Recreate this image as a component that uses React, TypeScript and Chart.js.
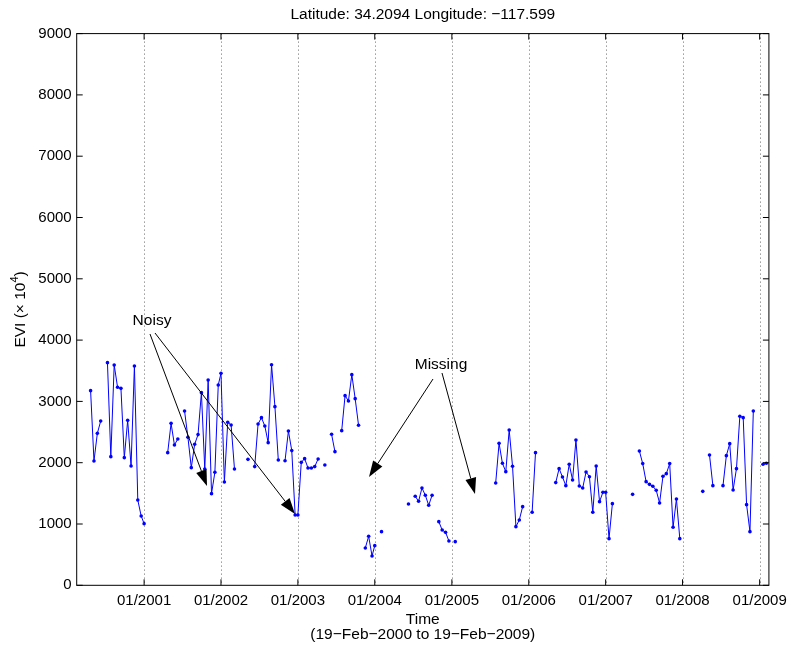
import React, { useEffect, useRef } from "react";
import { Chart, registerables } from "chart.js";

Chart.register(...registerables);

// ---- Data (EVI x 10^4, 16-day composites; null = missing) ----
// 2000: DOY 49 .. 353
const evi2000 = [null, null, null, null, 3175, 2028, 2479, 2680, null, 3632, 2099, 3594, 3230, 3213, 2082, 2691, 1946, 3578, 1392, 1131];
// 2001..2008: DOY 1 .. 353
const evi2001 = [1006, null, null, null, null, null, null, 2164, 2642, 2289, 2387, null, 2844, 2414, 1919, 2300, 2458, 3143, 1898, 3349, 1495, 1843, 3268];
const evi2002 = [3458, 1685, 2659, 2615, 1898, null, null, null, 2055, null, 1936, 2632, 2735, 2599, 2327, 3599, 2914, 2044, null, 2033, 2517, 2197, 1147];
const evi2003 = [1147, 2006, 2066, 1914, 1914, 1936, 2061, null, 1963, null, 2463, 2180, null, 2523, 3094, 3007, 3436, 3045, 2610, null, 609, 799, 478];
const evi2004 = [647, null, 875, null, null, null, null, null, null, null, 1327, null, 1452, 1370, 1588, 1468, 1305, 1468, null, 1038, 902, 864, 723];
const evi2005 = [null, 712, null, null, null, null, null, null, null, null, null, null, null, 1669, 2316, 1990, 1854, 2534, 1941, 957, 1066, 1283, null];
const evi2006 = [null, 1191, 2164, null, null, null, null, null, 1675, 1903, 1767, 1626, 1974, 1718, 2371, 1620, 1588, 1849, 1772, 1191, 1946, 1365, 1517];
const evi2007 = [1517, 761, 1332, null, null, null, null, null, 1484, null, 2191, 1985, 1691, 1647, 1615, 1550, 1343, 1778, 1821, 1985, 946, 1408, 761];
const evi2008 = [null, null, null, null, null, null, 1533, null, 2126, 1626, null, null, 1626, 2115, 2311, 1555, 1903, 2757, 2735, 1316, 875, 2844, null];
// 2009: DOY 1 .. 49
const evi2009 = [null, 1974, 1990, null];

const seriesYears = [2000, 2001, 2002, 2003, 2004, 2005, 2006, 2007, 2008, 2009];
const seriesFirstDoy = [49, 1, 1, 1, 1, 1, 1, 1, 1, 1];
const seriesValues = [evi2000, evi2001, evi2002, evi2003, evi2004, evi2005, evi2006, evi2007, evi2008, evi2009];

const tickYears = [2001, 2002, 2003, 2004, 2005, 2006, 2007, 2008, 2009];
const yTicks = [0, 1000, 2000, 3000, 4000, 5000, 6000, 7000, 8000, 9000];

const titleText = "Latitude: 34.2094 Longitude: \u2212117.599";
const xTitle = "Time";
const xSubtitle = "(19\u2212Feb\u22122000 to 19\u2212Feb\u22122009)";

// ---- helpers ----
const dayOf = (year: number, doy: number) =>
  (Date.UTC(year, 0, 1) - Date.UTC(2000, 0, 1)) / 86400000 + doy - 1;

const X_MIN = dayOf(2000, 47);
const X_MAX = dayOf(2009, 45);

const FONT = '"Liberation Sans", Arial, Helvetica, sans-serif';

function buildPoints() {
  const pts: { x: number; y: number | null }[] = [];
  seriesValues.forEach((vals, k) => {
    vals.forEach((v, i) => {
      pts.push({ x: dayOf(seriesYears[k], seriesFirstDoy[k] + 16 * i), y: v });
    });
  });
  return pts;
}

function drawArrow(ctx: CanvasRenderingContext2D, x1: number, y1: number, x2: number, y2: number) {
  const ang = Math.atan2(y2 - y1, x2 - x1);
  const L = 16;
  const W = 5.5;
  const bx = x2 - L * Math.cos(ang);
  const by = y2 - L * Math.sin(ang);
  ctx.beginPath();
  ctx.moveTo(x1, y1);
  ctx.lineTo(bx, by);
  ctx.stroke();
  ctx.beginPath();
  ctx.moveTo(x2, y2);
  ctx.lineTo(bx + W * Math.sin(ang), by - W * Math.cos(ang));
  ctx.lineTo(bx - W * Math.sin(ang), by + W * Math.cos(ang));
  ctx.closePath();
  ctx.fill();
}

const decorPlugin = {
  id: "matlabDecor",
  beforeDatasetsDraw(chart: any) {
    const { ctx, chartArea } = chart;
    const xs = chart.scales.x;
    ctx.save();
    ctx.strokeStyle = "rgba(0,0,0,0.6)";
    ctx.lineWidth = 1;
    ctx.setLineDash([1, 3]);
    tickYears.forEach((yr) => {
      const px = Math.round(xs.getPixelForValue(dayOf(yr, 1))) + 0.5;
      ctx.beginPath();
      ctx.moveTo(px, chartArea.top);
      ctx.lineTo(px, chartArea.bottom);
      ctx.stroke();
    });
    ctx.restore();
  },
  afterDatasetsDraw(chart: any) {
    const { ctx, chartArea } = chart;
    const xs = chart.scales.x;
    const ys = chart.scales.y;
    const { left, right, top, bottom } = chartArea;
    ctx.save();
    ctx.strokeStyle = "#000";
    ctx.lineWidth = 1;
    ctx.setLineDash([]);
    ctx.strokeRect(left, top, right - left, bottom - top);
    const T = 6;
    ctx.beginPath();
    yTicks.forEach((v) => {
      const py = ys.getPixelForValue(v);
      ctx.moveTo(left, py);
      ctx.lineTo(left + T, py);
      ctx.moveTo(right, py);
      ctx.lineTo(right - T, py);
    });
    tickYears.forEach((yr) => {
      const px = xs.getPixelForValue(dayOf(yr, 1));
      ctx.moveTo(px, bottom);
      ctx.lineTo(px, bottom - T);
      ctx.moveTo(px, top);
      ctx.lineTo(px, top + T);
    });
    ctx.stroke();

    // texts
    const cx = (left + right) / 2;
    ctx.fillStyle = "#000";
    ctx.textAlign = "center";
    ctx.textBaseline = "middle";
    ctx.font = `15.5px ${FONT}`;
    ctx.fillText(titleText, cx, 15);
    ctx.fillText(xTitle, cx, 620);
    ctx.fillText(xSubtitle, cx, 635);

    // y label with superscript
    ctx.save();
    ctx.translate(21, (top + bottom) / 2);
    ctx.rotate(-Math.PI / 2);
    const a = "EVI (\u00d7 10";
    const sup = "4";
    const c = ")";
    ctx.font = `15.5px ${FONT}`;
    const wa = ctx.measureText(a).width;
    const wc = ctx.measureText(c).width;
    ctx.font = `11px ${FONT}`;
    const ws = ctx.measureText(sup).width;
    const total = wa + ws + wc;
    const x0 = -total / 2;
    ctx.textAlign = "left";
    ctx.font = `15.5px ${FONT}`;
    ctx.fillText(a, x0, 0);
    ctx.font = `11px ${FONT}`;
    ctx.fillText(sup, x0 + wa, -6);
    ctx.font = `15.5px ${FONT}`;
    ctx.fillText(c, x0 + wa + ws, 0);
    ctx.restore();

    // annotations
    ctx.font = `15.5px ${FONT}`;
    ctx.textAlign = "center";
    ctx.fillText("Noisy", 152, 321);
    ctx.fillText("Missing", 441, 365);
    ctx.fillStyle = "#000";
    ctx.lineWidth = 1;
    drawArrow(ctx, 150, 334, 207, 486);
    drawArrow(ctx, 155, 333, 295, 514);
    drawArrow(ctx, 433, 379, 369, 477);
    drawArrow(ctx, 442, 373, 475, 494);
    ctx.restore();
  },
};

export default function App() {
  const ref = useRef<HTMLCanvasElement | null>(null);
  useEffect(() => {
    if (!ref.current) return;
    const chart = new Chart(ref.current, {
      type: "line",
      data: {
        datasets: [
          {
            data: buildPoints() as any,
            borderColor: "#0000ff",
            backgroundColor: "#0000ff",
            borderWidth: 1,
            pointRadius: 1.8,
            pointBorderWidth: 0,
            pointHoverRadius: 0,
            spanGaps: false,
            tension: 0,
          },
        ],
      },
      options: {
        animation: false,
        responsive: false,
        events: [],
        layout: { padding: { left: 0, top: 33.6, right: 18.3, bottom: 0 } },
        plugins: { legend: { display: false }, tooltip: { enabled: false }, title: { display: false } },
        scales: {
          x: {
            type: "linear",
            min: X_MIN,
            max: X_MAX,
            afterBuildTicks: (scale: any) => {
              scale.ticks = tickYears.map((yr) => ({ value: dayOf(yr, 1) }));
            },
            afterFit: (scale: any) => {
              scale.height = 645 - 585.3;
            },
            grid: { display: false, drawTicks: false },
            border: { display: false },
            ticks: {
              autoSkip: false,
              maxRotation: 0,
              padding: 7,
              color: "#000",
              font: { family: FONT, size: 15 },
              callback: (value: any) => {
                const yr = tickYears.find((y) => Math.abs(dayOf(y, 1) - value) < 0.5);
                return yr ? `01/${yr}` : "";
              },
            },
          },
          y: {
            min: 0,
            max: 9000,
            afterBuildTicks: (scale: any) => {
              scale.ticks = yTicks.map((v) => ({ value: v }));
            },
            afterFit: (scale: any) => {
              scale.width = 76.7;
            },
            grid: { display: false, drawTicks: false },
            border: { display: false },
            ticks: {
              padding: 5,
              color: "#000",
              font: { family: FONT, size: 15 },
              callback: (value: any) => String(value),
            },
          },
        },
      },
      plugins: [decorPlugin],
    } as any);
    return () => chart.destroy();
  }, []);
  return (
    <div style={{ position: "absolute", left: 0, top: 0, width: 794, height: 645, background: "#fff" }}>
      <canvas ref={ref} width={794} height={645} />
    </div>
  );
}
